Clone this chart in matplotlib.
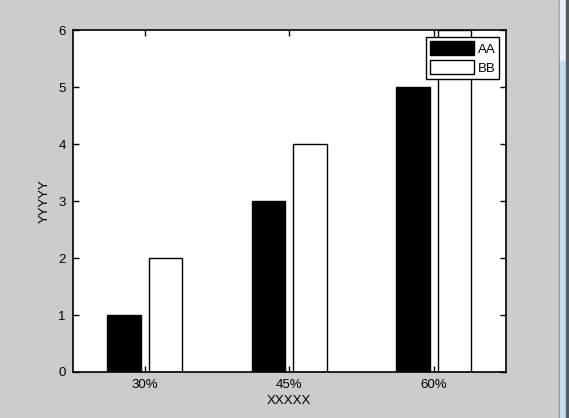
"""
MATLAB 风格分组柱状图复刻
"""
import matplotlib

matplotlib.use("Agg")
import matplotlib.pyplot as plt
from matplotlib.patches import Rectangle
import numpy as np

# ── 数据 ──
categories = ["30%", "45%", "60%"]
aa_values = [1, 3, 5]
bb_values = [2, 4, 6]
series_names = ["AA", "BB"]

plt.rcParams["font.family"] = ["Liberation Sans", "DejaVu Sans"]

W, H = 569, 418
fig = plt.figure(figsize=(W / 100, H / 100), dpi=100)
fig.patch.set_facecolor("#cccccc")

# 轴区域（像素换算）
left, right, top, bottom = 72.6, 506, 30.3, 372
ax = fig.add_axes([left / W, 1 - bottom / H, (right - left) / W, (bottom - top) / H])
ax.set_facecolor("white")

x = np.arange(1, len(categories) + 1)
width = 0.232
offset = 0.143
ax.bar(x - offset, aa_values, width, color="black", edgecolor="black",
       linewidth=1, label=series_names[0])
ax.bar(x + offset, bb_values, width, color="white", edgecolor="black",
       linewidth=1, label=series_names[1])

ax.set_xlim(0.5, 3.5)
ax.set_ylim(0, 6)
ax.set_xticks(x)
ax.set_xticklabels(categories)
ax.set_yticks(range(0, 7))

ax.tick_params(direction="in", length=4, width=1, top=True, right=True,
               labelsize=9.5, colors="black", pad=5)
for s in ax.spines.values():
    s.set_linewidth(1.2)
    s.set_color("black")

ax.set_xlabel("XXXXX", fontsize=9.5, labelpad=3)
ax.set_ylabel("YYYYY", fontsize=9.5, labelpad=5)

leg = ax.legend(loc="upper right", bbox_to_anchor=(0.985, 0.979),
                fontsize=9.5, frameon=True, fancybox=False, framealpha=1,
                edgecolor="black", handlelength=3.3, handleheight=1.25,
                handletextpad=0.3, borderpad=0.3, labelspacing=0.35,
                borderaxespad=0)
leg.get_frame().set_linewidth(1)

# ── 窗口右侧滚动条装饰 ──
fig.patches.append(Rectangle((559 / W, 0), 1 / W, 1, transform=fig.transFigure,
                             color="#8a8a8a"))
fig.patches.append(Rectangle((560 / W, 0), 6 / W, 1, transform=fig.transFigure,
                             color="#c5dcf5"))
fig.patches.append(Rectangle((560 / W, 1 - 60 / H), 6 / W, 60 / H,
                             transform=fig.transFigure, color="#e8f1fb"))
fig.patches.append(Rectangle((566 / W, 0), 3 / W, 1, transform=fig.transFigure,
                             color="#5a5a5a"))

fig.savefig("out.png", dpi=100, facecolor=fig.get_facecolor())
plt.close(fig)
